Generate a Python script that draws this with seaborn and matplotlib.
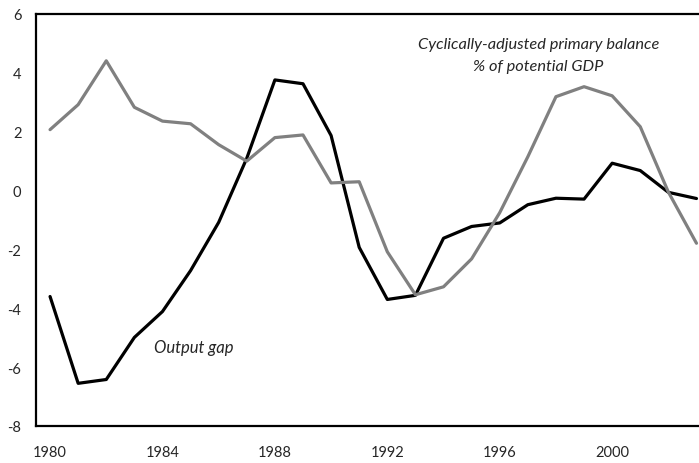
import numpy as np
import pandas as pd
import seaborn as sns
import matplotlib.pyplot as plt

years = list(range(1980, 2004))
output_gap = [-3.6, -6.55, -6.42, -4.99, -4.11, -2.72, -1.08, 1.1, 3.76, 3.63, 1.87, -1.93,
              -3.7, -3.56, -1.62, -1.22, -1.1, -0.48, -0.26, -0.29, 0.93, 0.68, -0.06, -0.27]
primary_balance = [2.07, 2.92, 4.41, 2.83, 2.36, 2.27, 1.56, 1.0, 1.8, 1.89, 0.26, 0.3,
                   -2.08, -3.54, -3.27, -2.32, -0.75, 1.15, 3.19, 3.53, 3.22, 2.17, -0.05, -1.79]
tick_years = [1980, 1984, 1988, 1992, 1996, 2000]

sns.set_style('white')
plt.rcParams['font.family'] = ['Lato', 'DejaVu Sans']
plt.rcParams['axes.unicode_minus'] = False

df = pd.DataFrame({
    'year': years * 2,
    'value': output_gap + primary_balance,
    'series': ['Output gap'] * len(years) + ['Primary balance'] * len(years),
})

fig = plt.figure(figsize=(6.99, 4.64), dpi=100)
ax = fig.add_axes([36 / 699, 1 - 427 / 464, 1 - 36 / 699, (427 - 15) / 464])

sns.lineplot(data=df, x='year', y='value', hue='series',
             palette={'Output gap': 'black', 'Primary balance': '#808080'},
             linewidth=2.3, legend=False, ax=ax)

ax.set_xlim(1979.5, 2003.09)
ax.set_ylim(-8, 6)
ax.set_xlabel('')
ax.set_ylabel('')

# labels centred on the years, tick marks between categories
ax.set_xticks(tick_years)
ax.set_xticklabels([str(y) for y in tick_years], fontsize=10.5)
ax.set_xticks([y - 0.5 for y in tick_years[1:]], minor=True)
ax.tick_params(axis='x', which='major', length=0, pad=14)
ax.tick_params(axis='x', which='minor', direction='in', length=4.5, width=1.3, color='black')

ax.set_yticks(np.arange(-8, 7, 2))
ax.tick_params(axis='y', direction='out', length=4.5, width=1.3, color='black',
               labelsize=10.5, pad=6)

for side in ['left', 'bottom', 'top']:
    ax.spines[side].set_visible(True)
    ax.spines[side].set_linewidth(1.6)
    ax.spines[side].set_color('black')
ax.spines['right'].set_visible(False)

ax.text(1997.38, 4.6, 'Cyclically-adjusted primary balance\n% of potential GDP',
        ha='center', va='center', style='italic', fontsize=11.8, linespacing=1.75)
ax.text(1983.7, -5.31, 'Output gap', ha='left', va='center', style='italic', fontsize=12)

fig.savefig('out.png', dpi=100)
